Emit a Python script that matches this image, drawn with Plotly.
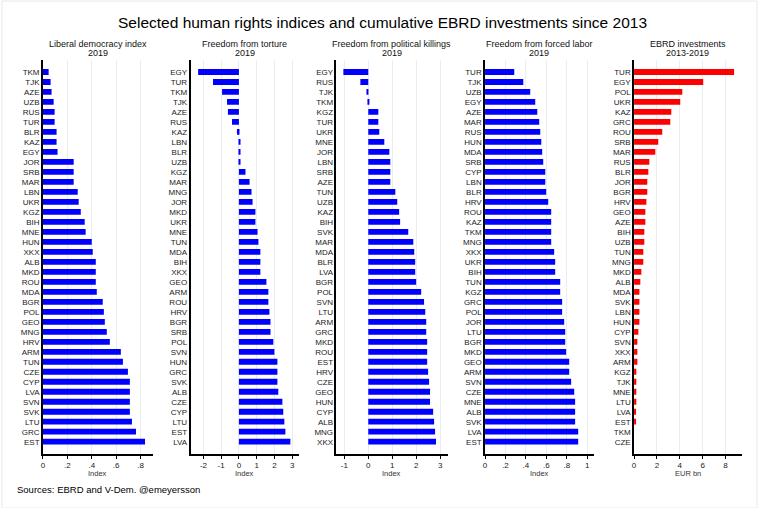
import plotly.graph_objects as go

W, H = 762, 508

# ---------------- data ----------------
lib_countries = ["TKM", "TJK", "AZE", "UZB", "RUS", "TUR", "BLR", "KAZ", "EGY", "JOR",
                 "SRB", "MAR", "LBN", "UKR", "KGZ", "BIH", "MNE", "HUN", "XKX", "ALB",
                 "MKD", "ROU", "MDA", "BGR", "POL", "GEO", "MNG", "HRV", "ARM", "TUN",
                 "CZE", "CYP", "LVA", "SVN", "SVK", "LTU", "GRC", "EST"]
lib_values = [0.047, 0.063, 0.071, 0.088, 0.096, 0.096, 0.112, 0.112, 0.12, 0.252,
              0.252, 0.252, 0.285, 0.293, 0.31, 0.342, 0.35, 0.40, 0.408, 0.433,
              0.433, 0.433, 0.441, 0.49, 0.499, 0.507, 0.523, 0.548, 0.638, 0.655,
              0.696, 0.712, 0.712, 0.712, 0.712, 0.729, 0.762, 0.836]

tort_countries = ["EGY", "TUR", "TKM", "TJK", "AZE", "RUS", "KAZ", "LBN", "BLR", "UZB",
                  "KGZ", "MAR", "MNG", "JOR", "MKD", "UKR", "MNE", "TUN", "MDA", "BIH",
                  "XKX", "GEO", "ARM", "ROU", "HRV", "BGR", "SRB", "POL", "SVN", "HUN",
                  "GRC", "SVK", "ALB", "CZE", "CYP", "LTU", "EST", "LVA"]
tort_values = [-2.30, -1.46, -0.95, -0.67, -0.62, -0.39, -0.11, 0.04, 0.04, 0.09,
               0.37, 0.60, 0.71, 0.77, 0.93, 0.93, 1.05, 1.10, 1.21, 1.21,
               1.21, 1.55, 1.66, 1.66, 1.72, 1.78, 1.78, 1.94, 2.00, 2.17,
               2.17, 2.17, 2.22, 2.45, 2.50, 2.56, 2.62, 2.90]

kill_countries = ["EGY", "RUS", "TJK", "TKM", "KGZ", "TUR", "UKR", "MNE", "JOR", "LBN",
                  "SRB", "AZE", "TUN", "UZB", "KAZ", "BIH", "SVK", "MAR", "MDA", "BLR",
                  "LVA", "BGR", "POL", "SVN", "LTU", "ARM", "GRC", "MKD", "ROU", "EST",
                  "HRV", "CZE", "GEO", "HUN", "CYP", "ALB", "MNG", "XKX"]
kill_values = [-1.04, -0.33, -0.04, 0.03, 0.42, 0.42, 0.46, 0.67, 0.88, 0.92,
               0.92, 0.92, 1.13, 1.21, 1.29, 1.33, 1.67, 1.88, 1.92, 1.96,
               1.96, 2.00, 2.21, 2.33, 2.38, 2.42, 2.42, 2.46, 2.46, 2.46,
               2.50, 2.54, 2.58, 2.58, 2.71, 2.75, 2.79, 2.83]

labor_countries = ["TUR", "TJK", "UZB", "EGY", "AZE", "MAR", "RUS", "HUN", "MDA", "SRB",
                   "CYP", "LBN", "BLR", "HRV", "ROU", "KAZ", "TKM", "MNG", "XKX", "UKR",
                   "BIH", "TUN", "KGZ", "GRC", "POL", "JOR", "LTU", "BGR", "MKD", "GEO",
                   "ARM", "SVN", "CZE", "MNE", "ALB", "SVK", "LVA", "EST"]
labor_values = [0.286, 0.374, 0.442, 0.491, 0.511, 0.530, 0.540, 0.550, 0.559, 0.569,
                0.589, 0.589, 0.598, 0.618, 0.647, 0.647, 0.647, 0.647, 0.676, 0.686,
                0.686, 0.735, 0.735, 0.754, 0.754, 0.774, 0.784, 0.784, 0.793, 0.823,
                0.823, 0.842, 0.872, 0.881, 0.881, 0.881, 0.911, 0.911]

ebrd_countries = ["TUR", "EGY", "POL", "UKR", "KAZ", "GRC", "ROU", "SRB", "MAR", "RUS",
                  "BLR", "JOR", "BGR", "HRV", "GEO", "AZE", "BIH", "UZB", "TUN", "MNG",
                  "MKD", "ALB", "MDA", "SVK", "LBN", "HUN", "CYP", "SVN", "XKX", "ARM",
                  "KGZ", "TJK", "MNE", "LTU", "LVA", "EST", "TKM", "CZE"]
ebrd_values = [8.75, 6.05, 4.22, 4.04, 3.26, 3.17, 2.47, 2.12, 1.86, 1.34,
               1.25, 1.16, 1.16, 1.08, 0.99, 0.99, 0.90, 0.90, 0.81, 0.81,
               0.64, 0.55, 0.47, 0.47, 0.47, 0.47, 0.38, 0.29, 0.29, 0.29,
               0.20, 0.20, 0.20, 0.20, 0.12, 0.12, 0.0, 0.0]

main_title = "Selected human rights indices and cumulative EBRD investments since 2013"
panel_titles = ["Liberal democracy index", "Freedom from torture",
                "Freedom from political killings", "Freedom from forced labor",
                "EBRD investments"]
panel_subtitles = ["2019", "2019", "2019", "2019", "2013-2019"]
axis_titles = ["Index", "Index", "Index", "Index", "EUR bn"]
tick_vals = [[0, 0.2, 0.4, 0.6, 0.8], [-2, -1, 0, 1, 2, 3], [-1, 0, 1, 2, 3],
             [0, 0.2, 0.4, 0.6, 0.8, 1], [0, 2, 4, 6, 8]]
tick_text = [["0", ".2", ".4", ".6", ".8"], ["-2", "-1", "0", "1", "2", "3"],
             ["-1", "0", "1", "2", "3"], ["0", ".2", ".4", ".6", ".8", "1"],
             ["0", "2", "4", "6", "8"]]
source_text = "Sources: EBRD and V-Dem. @emeyersson"

# ---------------- layout settings ----------------
FONT = "Liberation Sans, Arial, sans-serif"
BLUE = "#0000ff"
RED = "#ff0000"
GRID = "#e6eef0"
panel_px = [(41, 151), (189, 298), (335.3, 446.7), (484.3, 593.3), (633.7, 741.7)]
x_ranges = [[0, 0.898], [-2.73, 3.40], [-1.33, 3.31], [0, 1.063], [0, 9.42]]
colors = [BLUE, BLUE, BLUE, BLUE, RED]
y_top_px, y_bot_px = 60, 454
ydom = [1 - y_bot_px / H, 1 - y_top_px / H]

data_sets = [(lib_countries, lib_values), (tort_countries, tort_values),
             (kill_countries, kill_values), (labor_countries, labor_values),
             (ebrd_countries, ebrd_values)]

fig = go.Figure()
annotations = []

for i, (cats, vals) in enumerate(data_sets):
    sfx = "" if i == 0 else str(i + 1)
    fig.add_trace(go.Bar(
        x=vals, y=cats, orientation="h", marker_color=colors[i],
        marker_line_width=0, width=0.58,
        xaxis="x" + sfx, yaxis="y" + sfx, showlegend=False, hoverinfo="x+y",
    ))
    l, r = panel_px[i]
    n = len(cats)
    fig.layout["xaxis" + sfx] = dict(
        domain=[l / W, r / W], range=x_ranges[i], anchor="y" + sfx,
        tickmode="array", tickvals=tick_vals[i], ticktext=tick_text[i],
        ticks="outside", ticklen=3, tickwidth=1, tickcolor="#000",
        showline=True, linecolor="#000", linewidth=1.5,
        showgrid=True, gridcolor=GRID, gridwidth=1, zeroline=False,
        tickfont=dict(family=FONT, size=8, color="#222"),
        fixedrange=True,
    )
    fig.layout["yaxis" + sfx] = dict(
        domain=ydom, anchor="x" + sfx, type="category",
        categoryorder="array", categoryarray=cats,
        tickmode="array", tickvals=cats, ticktext=cats,
        range=[n - 1 + 1.23, -1.2],
        showline=True, linecolor="#000", linewidth=1.5,
        ticks="", showgrid=False, zeroline=False,
        tickfont=dict(family=FONT, size=8, color="#222"),
        fixedrange=True,
    )
    cx = ((l + r) / 2) / W
    annotations.append(dict(text=panel_titles[i], x=cx, y=1 - 44 / H, xref="paper", yref="paper",
                            xanchor="center", yanchor="middle", showarrow=False,
                            font=dict(family=FONT, size=9, color="#111")))
    annotations.append(dict(text=panel_subtitles[i], x=cx, y=1 - 52.7 / H, xref="paper", yref="paper",
                            xanchor="center", yanchor="middle", showarrow=False,
                            font=dict(family=FONT, size=9, color="#111")))
    annotations.append(dict(text=axis_titles[i], x=cx, y=1 - 473.5 / H, xref="paper", yref="paper",
                            xanchor="center", yanchor="middle", showarrow=False,
                            font=dict(family=FONT, size=7.5, color="#333")))

annotations.append(dict(text=main_title, x=381 / W, y=1 - 22 / H, xref="paper", yref="paper",
                        xanchor="center", yanchor="middle", showarrow=False,
                        font=dict(family=FONT, size=15.5, color="#000")))
annotations.append(dict(text=source_text, x=13 / W, y=1 - 489 / H, xref="paper", yref="paper",
                        xanchor="left", yanchor="middle", showarrow=False,
                        font=dict(family=FONT, size=9.5, color="#000")))

fig.update_layout(
    width=W, height=H, margin=dict(l=0, r=0, t=0, b=0),
    paper_bgcolor="white", plot_bgcolor="white",
    annotations=annotations, bargap=0.42,
    shapes=[dict(type="rect", xref="paper", yref="paper", x0=0, x1=757 / W, y0=0, y1=1 - 1 / H,
                 line=dict(color="#e3eaed", width=1), fillcolor="rgba(0,0,0,0)", layer="below")],
)

fig.write_html("out.html", config={"displayModeBar": False},
               post_script="document.body.style.margin='0';document.body.style.padding='0';")
